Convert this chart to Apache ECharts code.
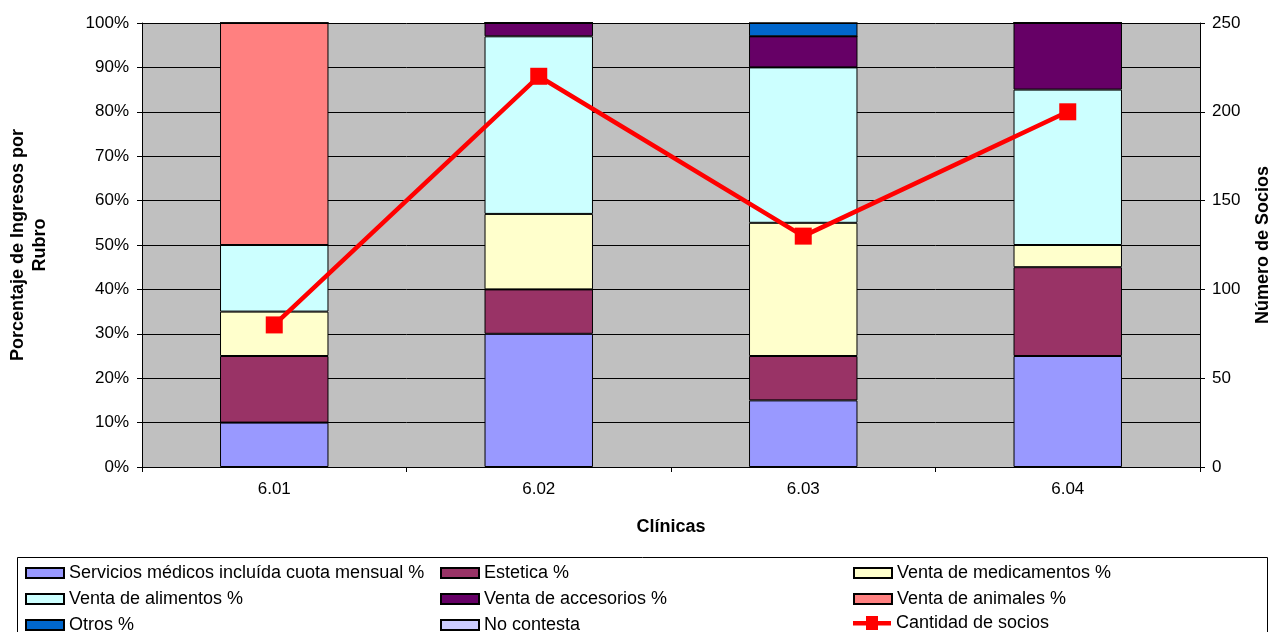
<!DOCTYPE html>
<html>
<head>
<meta charset="utf-8">
<script src="https://cdn.jsdelivr.net/npm/echarts@6/dist/echarts.min.js"></script>
<style>
  html, body { margin: 0; padding: 0; background: #fff; }
  #chart { width: 1273px; height: 632px; }
</style>
</head>
<body>
<div id="chart"></div>
<script>
// Clinics surveyed
const clinics = ['6.01', '6.02', '6.03', '6.04'];

// Share of income by category (%)
const serviciosMedicos = [10, 30, 15, 25];
const estetica         = [15, 10, 10, 20];
const medicamentos     = [10, 17, 30, 5];
const alimentos        = [15, 40, 35, 35];
const accesorios       = [0, 3, 7, 15];
const animales         = [50, 0, 0, 0];
const otros            = [0, 0, 3, 0];
const noContesta       = [0, 0, 0, 0];

// Number of members per clinic
const socios = [80, 220, 130, 200];

const pctTicks = [0, 10, 20, 30, 40, 50, 60, 70, 80, 90, 100];
const sociosTicks = [0, 50, 100, 150, 200, 250];

const FONT = 'Liberation Sans, Arial, sans-serif';
const TXT = { fontFamily: FONT, fontSize: 17, color: '#000' };
const LEG_TXT = { fontFamily: FONT, fontSize: 18, color: '#000' };
const TITLE_TXT = { fontFamily: FONT, fontSize: 18, fontWeight: 'bold', color: '#000' };

const names = {
  serv: 'Servicios médicos incluída cuota mensual %',
  est: 'Estetica %',
  med: 'Venta de medicamentos %',
  ali: 'Venta de alimentos %',
  acc: 'Venta de accesorios %',
  ani: 'Venta de animales %',
  otr: 'Otros %',
  noc: 'No contesta',
  soc: 'Cantidad de socios'
};

function barSeries(name, data, color) {
  return {
    name, type: 'bar', stack: 'rubro', data,
    barWidth: '41%',
    itemStyle: { color, borderColor: '#000', borderWidth: 1 },
    yAxisIndex: 0
  };
}

// Legend: three columns x three rows, each entry placed on its own
const colX = [25, 440, 853];
const rowY = [564, 590, 616];
const legendGrid = [
  [names.serv, names.est, names.med],
  [names.ali, names.acc, names.ani],
  [names.otr, names.noc, names.soc]
];
const legends = [];
legendGrid.forEach((row, r) => row.forEach((nm, c) => {
  const isLine = nm === names.soc;
  legends.push({
    left: colX[c], top: rowY[r] - (isLine ? 2 : 0), padding: 0,
    itemWidth: 38, itemHeight: isLine ? 14 : 10, itemGap: 6,
    selectedMode: false, textStyle: LEG_TXT,
    data: [isLine
      ? { name: nm, icon: 'path://M0,5 L13,5 L13,0 L25,0 L25,5 L38,5 L38,9.5 L25,9.5 L25,14 L13,14 L13,9.5 L0,9.5 Z' }
      : { name: nm, icon: 'rect' }]
  });
}));

const chart = echarts.init(document.getElementById('chart'), null, { renderer: 'canvas' });
chart.setOption({
  animation: false,
  backgroundColor: '#fff',
  textStyle: { fontFamily: FONT },
  grid: {
    left: 142, right: 73, top: 23, bottom: 165, containLabel: false, outerBoundsMode: 'none',
    show: true, backgroundColor: '#c0c0c0', borderWidth: 0
  },
  graphic: [{
    type: 'rect', shape: { x: 17.5, y: 557.5, width: 1250, height: 90 },
    style: { fill: 'none', stroke: '#000', lineWidth: 1 }
  }],
  legend: legends,
  xAxis: {
    type: 'category', data: clinics, boundaryGap: true,
    name: 'Clínicas', nameLocation: 'middle', nameGap: 51,
    nameTextStyle: TITLE_TXT,
    axisLine: { lineStyle: { color: '#000', width: 1 } },
    axisTick: { show: true, length: 5, inside: false, lineStyle: { color: '#000' } },
    axisLabel: Object.assign({ margin: 14 }, TXT)
  },
  yAxis: [{
    type: 'value', min: 0, max: 100, interval: 10,
    name: 'Porcentaje de Ingresos por\nRubro', nameLocation: 'middle', nameGap: 91, nameRotate: 90,
    nameTextStyle: Object.assign({ lineHeight: 22 }, TITLE_TXT),
    axisLine: { show: true, lineStyle: { color: '#000' } },
    axisTick: { show: true, length: 5, lineStyle: { color: '#000' } },
    axisLabel: Object.assign({ margin: 13, formatter: v => pctTicks.includes(v) ? v + '%' : '' }, TXT),
    splitLine: { show: true, lineStyle: { color: '#000', width: 1 } }
  }, {
    type: 'value', min: 0, max: 250, interval: 50, position: 'right',
    name: 'Número de Socios', nameLocation: 'middle', nameGap: 54, nameRotate: 90,
    nameTextStyle: TITLE_TXT,
    axisLine: { show: true, lineStyle: { color: '#000' } },
    axisTick: { show: true, length: 5, lineStyle: { color: '#000' } },
    axisLabel: Object.assign({ margin: 12, formatter: v => sociosTicks.includes(v) ? String(v) : '' }, TXT),
    splitLine: { show: false }
  }],
  series: [
    barSeries(names.serv, serviciosMedicos, '#9999ff'),
    barSeries(names.est, estetica, '#993366'),
    barSeries(names.med, medicamentos, '#ffffcc'),
    barSeries(names.ali, alimentos, '#ccffff'),
    barSeries(names.acc, accesorios, '#660066'),
    barSeries(names.ani, animales, '#ff8080'),
    barSeries(names.otr, otros, '#0066cc'),
    barSeries(names.noc, noContesta, '#ccccff'),
    {
      name: names.soc, type: 'line', yAxisIndex: 1, data: socios,
      symbol: 'rect', symbolSize: 17,
      lineStyle: { color: '#ff0000', width: 4.5 },
      itemStyle: { color: '#ff0000' },
      z: 5
    }
  ]
});
</script>
</body>
</html>
